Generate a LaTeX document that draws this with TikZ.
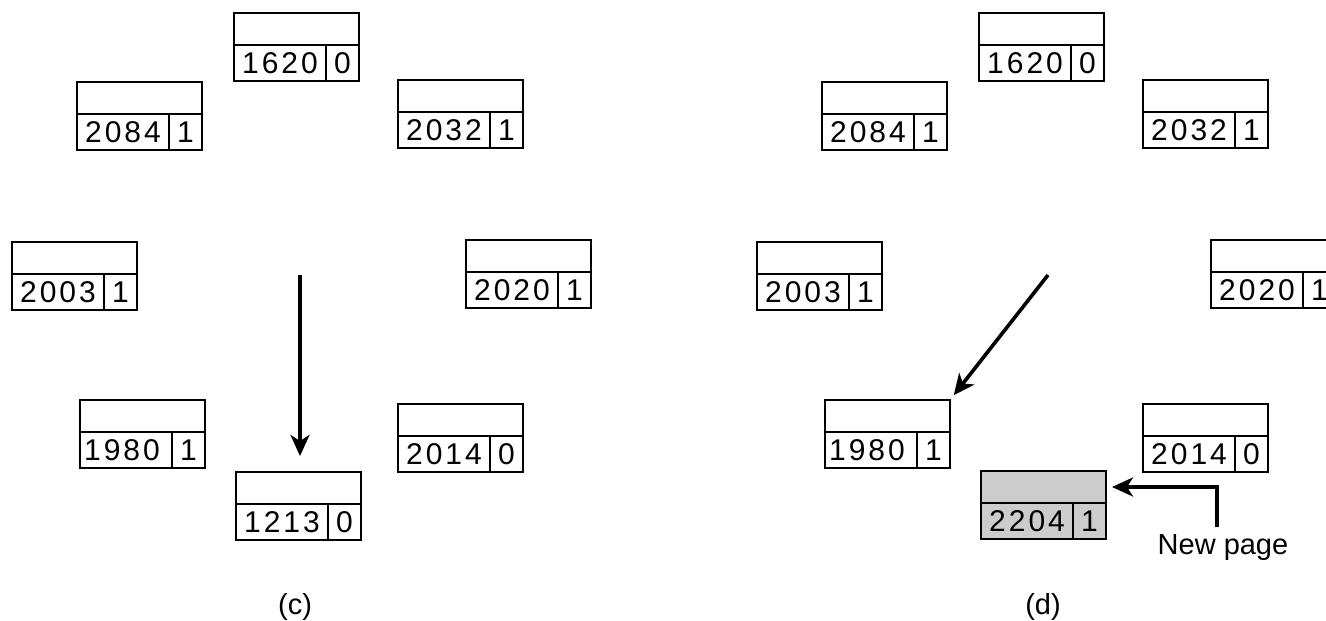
\documentclass[tikz,border=0pt]{standalone}
\usepackage{fontspec}
\setmainfont{Liberation Sans}
\newfontfamily\digfont[LetterSpace=10]{Liberation Sans}
\usetikzlibrary{arrows.meta}
\definecolor{pagegray}{RGB}{204,204,204}
\tikzset{
  cell/.style={draw, line width=2.8pt, inner sep=0pt, outer sep=0pt, anchor=north west},
  topcell/.style={cell, minimum width=125pt, minimum height=32pt},
  numcell/.style={cell, minimum width=92pt, minimum height=36pt, font=\digfont\fontsize{30}{32}\selectfont},
  bitcell/.style={cell, minimum width=33pt, minimum height=36pt, font=\digfont\fontsize{30}{32}\selectfont},
  newp/.style={fill=pagegray},
  plain/.style={},
  ptr/.style={line width=3.6pt, -{Stealth[length=21pt,width=19pt,inset=6pt]}},
  captext/.style={font=\fontsize{29}{32}\selectfont, inner sep=0pt},
}
\newcommand\mybox[5]{%
  \node[topcell,#5] (#1-t) at (#2) {};
  \node[numcell,#5] (#1-n) at (#1-t.south west) {#3};
  \node[bitcell,#5] (#1-b) at (#1-n.north east) {#4};
}
\begin{document}
\begin{tikzpicture}[x=1pt,y=-1pt]
\useasboundingbox (0,0) rectangle (1326,621);
% panel (c)
\mybox{c1620}{234,13}{1620}{0}{plain}
\mybox{c2084}{77,82}{2084}{1}{plain}
\mybox{c2032}{398,80}{2032}{1}{plain}
\mybox{c2003}{12,242}{2003}{1}{plain}
\mybox{c2020}{466,240}{2020}{1}{plain}
\mybox{c1980}{80,400}{1980\kern8pt}{1}{plain}
\mybox{c2014}{398,404}{2014}{0}{plain}
\mybox{c1213}{236,472}{1213}{0}{plain}
\coordinate (ca) at (300,275);
\draw[ptr, shorten >=16pt] (ca) -- (c1213-t.north -| ca);
\node[captext] (lc) at (295,607) {(c)};
% panel (d)
\mybox{d1620}{979,13}{1620}{0}{plain}
\mybox{d2084}{822,82}{2084}{1}{plain}
\mybox{d2032}{1143,80}{2032}{1}{plain}
\mybox{d2003}{757,242}{2003}{1}{plain}
\mybox{d2020}{1211,240}{2020}{1}{plain}
\mybox{d1980}{825,400}{1980\kern8pt}{1}{plain}
\mybox{d2014}{1143,404}{2014}{0}{plain}
\mybox{d2204}{981,471}{2204}{1}{newp}
\coordinate (da) at (1048,275);
\draw[ptr, shorten >=6pt] (da) -- (d1980-t.north east);
\node[captext] (np) at (1223,548) {New page};
\coordinate (npa) at (1217,527);
\draw[ptr, shorten >=6pt] (npa) |- (d2204-t.east);
\node[captext] (ld) at (1043,607) {(d)};
\end{tikzpicture}
\end{document}
